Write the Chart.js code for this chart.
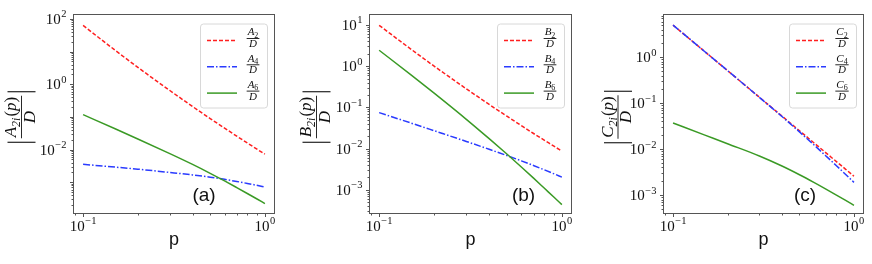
<!DOCTYPE html>
<html>
<head>
<meta charset="utf-8">
<script src="https://cdn.jsdelivr.net/npm/chart.js@4.4.1/dist/chart.umd.min.js"></script>
<style>
html,body{margin:0;padding:0;background:#fff;}
#wrap{position:relative;width:872px;height:264px;overflow:hidden;}
.panel{position:absolute;top:0;height:264px;}
</style>
</head>
<body>
<div id="wrap">
  <div class="panel" style="left:0;width:290px"><canvas id="ca" width="290" height="264"></canvas></div>
  <div class="panel" style="left:290px;width:290px"><canvas id="cb" width="290" height="264"></canvas></div>
  <div class="panel" style="left:580px;width:292px"><canvas id="cc" width="292" height="264"></canvas></div>
</div>
<script>
// ---- data ----
const pValues = [0.1, 0.15, 0.2, 0.3, 0.4, 0.5, 0.6, 0.7, 0.8, 0.9, 1.0];

const A2 = [63.1, 11.0, 3.30, 0.644, 0.209, 0.0895, 0.0454, 0.0258, 0.0160, 0.0105, 0.00724];
const A4 = [0.00355, 0.00292, 0.00252, 0.00200, 0.00168, 0.00143, 0.00123, 0.00106, 0.000923, 0.000811, 0.000718];
const A6 = [0.1175, 0.0436, 0.0212, 0.00753, 0.00352, 0.00188, 0.0011, 0.000687, 0.000454, 0.000313, 0.000223];

const B2 = [9.77, 2.54, 1.0, 0.282, 0.118, 0.0612, 0.0362, 0.0233, 0.0161, 0.01164, 0.0087];
const B4 = [0.0746, 0.0415, 0.0272, 0.01496, 0.00966, 0.00681, 0.00506, 0.00389, 0.00308, 0.00248, 0.00204];
const B6 = [2.43, 0.607, 0.221, 0.0514, 0.01746, 0.0074, 0.0036, 0.00193, 0.00111, 0.00068, 0.00044];

const C2 = [5.0, 1.32, 0.513, 0.135, 0.0524, 0.0251, 0.0138, 0.00832, 0.00536, 0.00364, 0.00257];
const C4 = [5.0, 1.32, 0.513, 0.134, 0.0513, 0.0237, 0.01245, 0.00711, 0.00436, 0.00281, 0.00189];
const C6 = [0.0372, 0.0202, 0.0131, 0.0071, 0.00429, 0.00277, 0.00189, 0.00135, 0.00100, 0.000764, 0.000598];

// tick label exponents (10^n)
const xTickExps = [-1, 0];
const aYTickExps = [-2, 0, 2];
const bYTickExps = [-3, -2, -1, 0, 1];
const cYTickExps = [-3, -2, -1, 0];

const legendSubs = ['2', '4', '6'];

// ---- styles ----
const SERIF = '"Liberation Serif", "DejaVu Serif", serif';
const SANS = '"Liberation Sans", Arial, sans-serif';
const RED = '#ff1f1f', BLUE = '#2a3bff', GREEN = '#3a9a25';
const FRAME = '#555555';
const lineStyles = [
  { color: RED, dash: [4, 2] },
  { color: BLUE, dash: [7, 2, 1.5, 2] },
  { color: GREEN, dash: [] }
];

const PLOT_TOP = 15, PLOT_BOTTOM = 213;

const panels = [
  { id:'ca', width:290, plotLeft:74, plotRight:274, yLo:-3.94, yHi:2.12, yTicks:aYTickExps,
    letter:'A', series:[A2, A4, A6], tag:'(a)', tagX:204, titleX:21.5 },
  { id:'cb', width:290, plotLeft:80, plotRight:281, yLo:-3.56, yHi:1.24, yTicks:bYTickExps,
    letter:'B', series:[B2, B4, B6], tag:'(b)', tagX:233.5, titleX:26.5 },
  { id:'cc', width:292, plotLeft:84, plotRight:283, yLo:-3.39, yHi:0.92, yTicks:cYTickExps,
    letter:'C', series:[C2, C4, C6], tag:'(c)', tagX:225, titleX:38 }
];

// ---- text helpers ----
function runFont(r, size){
  const s = r.sub ? Math.round(size*0.7) : size;
  return (r.it ? 'italic ' : '') + s + 'px ' + SERIF;
}
function runsWidth(ctx, runs, size){
  let w = 0;
  runs.forEach(r => { ctx.font = runFont(r, size); w += ctx.measureText(r.t).width + (r.gap||0); });
  return w;
}
function drawRuns(ctx, runs, size, x, y){
  runs.forEach(r => {
    ctx.font = runFont(r, size);
    ctx.fillText(r.t, x, r.sub ? y + size*0.22 : y);
    x += ctx.measureText(r.t).width + (r.gap||0);
  });
}
function drawFrac(ctx, num, den, size, cx, cy){
  ctx.textAlign = 'left'; ctx.textBaseline = 'alphabetic';
  const wn = runsWidth(ctx, num, size), wd = runsWidth(ctx, den, size);
  const w = Math.max(wn, wd) + 2;
  drawRuns(ctx, num, size, cx - wn/2, cy - size*0.3);
  drawRuns(ctx, den, size, cx - wd/2, cy + size*0.78);
  ctx.fillRect(cx - w/2, cy - 0.45, w, 0.9);
  return w;
}
function drawPow(ctx, exp, x, y, align){
  const base = '10', sup = (exp < 0 ? '\u2212' : '') + Math.abs(exp);
  ctx.textAlign = 'left'; ctx.textBaseline = 'alphabetic';
  ctx.font = '15px ' + SERIF; const wb = ctx.measureText(base).width;
  ctx.font = '10.5px ' + SERIF; const ws = ctx.measureText(sup).width;
  const w = wb + ws + 0.5;
  const x0 = align === 'center' ? x - w/2 : x - w;
  ctx.font = '15px ' + SERIF; ctx.fillText(base, x0, y);
  ctx.font = '10.5px ' + SERIF; ctx.fillText(sup, x0 + wb + 0.5, y - 6.5);
}

function hline(ctx, x1, y1, x2, y2){
  ctx.beginPath(); ctx.moveTo(x1, y1); ctx.lineTo(x2, y2); ctx.stroke();
}

// ---- decorations: frame, ticks, labels, legend ----
function decorPlugin(panel){
  return {
    id: 'decor',
    afterDraw(chart){
      const ctx = chart.ctx, a = chart.chartArea;
      const xs = chart.scales.x, ys = chart.scales.y;
      ctx.save();
      ctx.strokeStyle = FRAME; ctx.lineWidth = 1; ctx.setLineDash([]);
      const L = Math.round(a.left) - 0.5, R = Math.round(a.right) + 0.5;
      const T = Math.round(a.top) - 0.5, B = Math.round(a.bottom) + 0.5;
      ctx.strokeRect(L, T, R - L, B - T);

      // x ticks
      for(let e = -2; e <= 1; e++){
        for(let m = 1; m < 10; m++){
          const v = m * Math.pow(10, e);
          if(v < xs.min || v > xs.max) continue;
          const px = Math.round(xs.getPixelForValue(v)) + 0.5;
          hline(ctx, px, B, px, B + (m === 1 ? 3.5 : 2));
        }
      }
      // y ticks
      for(let e = -5; e <= 3; e++){
        for(let m = 1; m < 10; m++){
          const v = m * Math.pow(10, e);
          if(v < ys.min || v > ys.max) continue;
          const py = Math.round(ys.getPixelForValue(v)) + 0.5;
          hline(ctx, L, py, L - (m === 1 ? 3.5 : 2), py);
        }
      }

      ctx.fillStyle = '#111';
      xTickExps.forEach(e => drawPow(ctx, e, xs.getPixelForValue(Math.pow(10, e)), B + 17, 'center'));
      panel.yTicks.forEach(e => drawPow(ctx, e, L - 7, ys.getPixelForValue(Math.pow(10, e)) + 5, 'right'));

      // x title
      ctx.font = '18px ' + SANS; ctx.textAlign = 'center'; ctx.textBaseline = 'alphabetic';
      ctx.fillText('p', (a.left + a.right)/2, 245);

      // panel tag
      ctx.font = '19px ' + SANS;
      ctx.fillText(panel.tag, panel.tagX, 201);

      // y title  |X_2i(p) / D|
      ctx.save();
      ctx.translate(panel.titleX, 117);
      ctx.rotate(-Math.PI/2);
      const num = [{t:panel.letter, it:true}, {t:'2i', it:true, sub:true, gap:1}, {t:'('}, {t:'p', it:true}, {t:')'}];
      const den = [{t:'D', it:true}];
      const w = drawFrac(ctx, num, den, 17, 0, 0);
      ctx.strokeStyle = '#111'; ctx.lineWidth = 1.1;
      hline(ctx, -w/2 - 4, -14, -w/2 - 4, 14);
      hline(ctx, w/2 + 4, -14, w/2 + 4, 14);
      ctx.restore();

      // legend
      const bw = 67, bh = 84;
      const bx = a.right - 7 - bw, by = a.top + 8.5;
      ctx.fillStyle = 'rgba(255,255,255,0.85)';
      ctx.strokeStyle = '#d8d8d8'; ctx.lineWidth = 1;
      ctx.beginPath();
      ctx.roundRect(bx + 0.5, by + 0.5, bw, bh, 3);
      ctx.fill(); ctx.stroke();
      chart.data.datasets.forEach((ds, i) => {
        const ry = by + 17 + i*26.3;
        ctx.strokeStyle = ds.borderColor; ctx.lineWidth = 1.5;
        ctx.setLineDash(ds.borderDash || []);
        hline(ctx, bx + 7, ry, bx + 37, ry);
        ctx.setLineDash([]);
        ctx.fillStyle = '#111';
        drawFrac(ctx, [{t:panel.letter, it:true}, {t:legendSubs[i], sub:true}], [{t:'D', it:true}], 11, bx + 53, ry - 2);
      });
      ctx.restore();
    }
  };
}

panels.forEach(panel => {
  const datasets = panel.series.map((vals, i) => ({
    data: pValues.map((p, j) => ({ x: p, y: vals[j] })),
    borderColor: lineStyles[i].color,
    borderDash: lineStyles[i].dash,
    borderWidth: 1.5,
    pointRadius: 0,
    fill: false,
    cubicInterpolationMode: 'monotone',
    order: 3 - i
  }));
  new Chart(document.getElementById(panel.id), {
    type: 'line',
    data: { datasets },
    options: {
      responsive: false,
      animation: false,
      devicePixelRatio: 1,
      layout: { padding: { left: 0, top: PLOT_TOP, bottom: 0, right: panel.width - panel.plotRight } },
      plugins: { legend: { display: false }, tooltip: { enabled: false } },
      scales: {
        x: {
          type: 'logarithmic',
          min: Math.pow(10, -1.05), max: Math.pow(10, 0.05),
          ticks: { display: false }, grid: { display: false }, border: { display: false },
          afterFit: s => { s.height = 264 - PLOT_BOTTOM; }
        },
        y: {
          type: 'logarithmic',
          min: Math.pow(10, panel.yLo), max: Math.pow(10, panel.yHi),
          ticks: { display: false }, grid: { display: false }, border: { display: false },
          afterFit: s => { s.width = panel.plotLeft; }
        }
      }
    },
    plugins: [decorPlugin(panel)]
  });
});
</script>
</body>
</html>
